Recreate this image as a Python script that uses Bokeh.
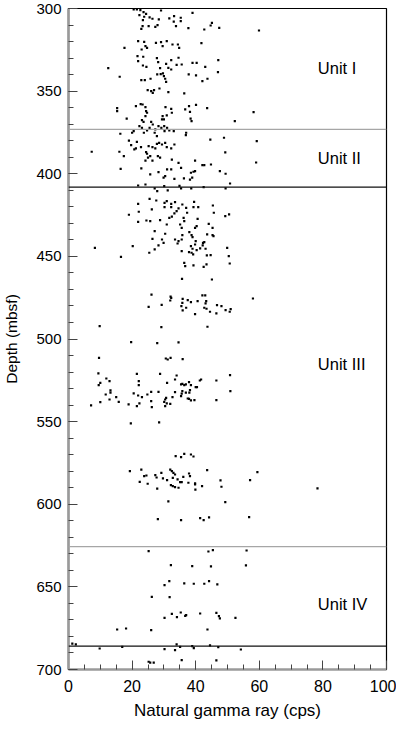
from bokeh.plotting import figure
from bokeh.models import Range1d, SingleIntervalTicker, Span, ColumnDataSource
from bokeh.core.properties import value
from bokeh.embed import file_html
from bokeh.resources import INLINE

# ---- data: (natural gamma ray [cps], depth [mbsf]) ----
pts_300_369 = [(20.5,300.6),(21.5,300.6),(22.6,301.0),(23.6,302.2),(24.4,303.2),(29.1,301.2),(39.0,302.6),(22.3,304.0),(23.8,305.0),(25.5,305.4),(26.4,306.2),(28.4,306.6),(31.7,306.0),(33.2,304.6),(35.3,305.6),(35.3,307.6),(33.1,308.0),(23.4,307.0),(23.3,310.7),(25.2,310.7),(27.3,311.1),(28.0,310.1),(33.8,310.7),(37.7,311.9),(42.7,312.7),(44.7,310.3),(45.1,308.7),(47.4,311.7),(59.9,313.3),(22.9,312.3),(17.6,323.8),(21.9,319.7),(23.8,320.2),(24.2,322.8),(24.7,323.8),(23.0,324.8),(27.5,320.8),(29.1,320.4),(29.6,322.8),(30.9,319.7),(32.7,321.8),(34.4,321.8),(34.8,323.8),(41.8,321.0),(21.7,328.8),(23.5,329.2),(21.9,331.8),(27.8,330.0),(28.2,332.5),(30.7,333.5),(32.3,331.2),(34.6,329.8),(35.6,333.9),(34.0,334.1),(39.0,332.9),(40.3,332.9),(43.0,335.3),(47.1,331.2),(12.5,336.1),(23.4,334.5),(24.5,335.3),(28.8,336.1),(31.4,335.9),(32.3,336.9),(16.1,341.3),(22.9,343.3),(24.0,343.3),(25.8,342.5),(27.9,339.9),(29.0,339.7),(29.7,339.3),(30.0,340.9),(30.4,342.5),(30.7,344.4),(37.8,339.9),(40.1,340.5),(42.1,344.0),(43.7,342.5),(47.0,338.5),(24.9,349.4),(26.0,350.0),(26.5,351.0),(26.9,349.4),(28.6,348.4),(31.4,350.6),(36.4,351.4),(15.3,360.3),(15.3,362.1),(21.2,359.1),(22.7,357.9),(23.3,358.1),(24.2,359.7),(24.4,362.1),(24.7,363.1),(24.2,365.1),(30.5,359.7),(32.3,360.7),(32.5,363.1),(30.9,364.7),(29.6,365.1),(29.4,367.1),(36.7,361.1),(37.9,359.1),(38.2,362.5),(40.1,358.3),(43.6,360.3),(58.2,362.7),(18.3,366.7),(23.1,367.5),(23.6,368.6),(26.0,368.6),(30.0,367.1),(38.4,366.7),(38.7,368.2),(52.3,368.2)]

pts_369_437 = [(16.3,375.8),(20.0,375.2),(22.3,371.2),(20.5,374.2),(23.1,372.2),(23.7,375.2),(24.7,373.8),(25.5,372.2),(26.5,370.2),(27.3,373.2),(28.3,371.2),(29.2,372.2),(30.1,371.2),(30.2,374.2),(31.0,372.2),(31.7,373.8),(33.1,374.2),(37.0,375.2),(36.9,376.6),(27.1,375.2),(27.8,377.2),(19.0,379.9),(21.5,380.7),(19.7,382.7),(20.7,385.3),(21.2,384.7),(22.8,383.9),(25.2,383.3),(26.4,383.9),(27.3,384.7),(27.8,381.9),(28.5,381.3),(29.4,382.3),(30.4,381.3),(30.9,383.9),(32.3,384.7),(33.3,382.3),(44.6,379.3),(48.9,378.2),(59.2,380.3),(7.3,386.7),(16.0,386.7),(17.4,389.3),(24.4,386.9),(24.7,387.9),(25.0,390.3),(24.2,392.0),(25.7,389.3),(26.4,392.0),(28.1,389.3),(28.8,390.3),(32.5,391.4),(39.8,392.0),(42.1,394.8),(42.7,394.8),(44.8,394.4),(49.3,387.1),(59.0,393.2),(22.9,396.8),(16.4,397.0),(25.7,400.4),(28.3,399.0),(29.9,402.4),(30.4,401.4),(31.0,397.4),(32.3,397.4),(34.6,393.4),(35.4,396.4),(38.5,399.4),(39.3,398.8),(39.8,398.4),(36.3,402.8),(38.2,403.5),(38.9,402.4),(33.3,403.1),(47.6,398.4),(49.4,400.0),(21.9,407.1),(24.2,406.5),(27.1,408.9),(27.9,410.5),(30.1,407.5),(31.2,410.1),(34.9,407.3),(35.4,408.9),(38.6,408.9),(42.5,408.1),(49.4,408.9),(50.8,405.9),(25.5,415.2),(27.6,416.2),(30.2,417.6),(30.9,416.6),(32.3,418.2),(33.5,417.2),(35.8,418.6),(39.5,417.0),(39.3,420.2),(40.8,420.2),(21.9,418.2),(22.1,423.0),(26.2,421.6),(19.0,424.8),(30.2,420.2),(32.3,420.2),(34.6,421.0),(34.0,422.6),(33.3,424.0),(32.5,426.0),(31.7,426.7),(36.2,426.7),(36.4,428.7),(37.0,420.6),(37.3,423.6),(45.4,419.2),(45.7,423.6),(49.3,425.6),(50.5,424.6),(40.6,427.3),(21.9,429.1),(24.5,428.3),(25.7,428.7),(28.8,428.1),(30.9,430.7),(35.1,430.7),(35.6,432.7),(40.3,431.7),(39.8,432.7),(44.1,430.3),(45.3,432.7),(27.1,434.7),(30.4,436.3),(35.8,437.1),(38.0,435.3),(38.7,437.1),(43.6,436.7),(45.3,437.1)]

pts_437_503 = [(26.4,439.4),(29.4,439.8),(29.9,441.8),(28.3,443.4),(27.1,445.8),(25.4,447.8),(33.5,439.8),(34.6,440.8),(34.3,442.2),(35.6,439.8),(39.0,438.4),(40.0,440.8),(39.8,442.8),(38.5,443.8),(39.0,445.4),(42.3,441.8),(42.7,441.4),(42.2,443.4),(41.4,445.2),(40.3,446.2),(43.1,445.4),(35.6,446.8),(37.9,447.4),(38.7,447.8),(39.2,448.8),(43.5,449.4),(44.7,449.2),(45.6,437.7),(49.9,444.8),(50.4,449.8),(50.7,454.3),(8.3,444.8),(20.2,443.8),(16.5,450.3),(36.4,453.9),(36.7,455.9),(39.3,455.5),(42.5,456.3),(43.4,454.9),(35.7,463.6),(45.1,464.0),(26.1,473.2),(32.1,474.3),(32.3,475.1),(32.0,476.7),(35.9,475.7),(35.8,478.1),(37.5,476.5),(38.5,477.7),(40.6,477.1),(42.1,473.6),(43.0,473.6),(43.3,477.1),(43.1,478.5),(42.7,481.1),(43.4,481.7),(29.3,479.3),(25.2,480.5),(35.5,480.1),(37.0,481.1),(35.9,482.7),(39.8,484.9),(44.5,483.5),(46.7,479.5),(48.1,480.1),(46.5,484.5),(49.4,482.5),(50.7,483.5),(51.0,481.9),(58.0,475.5),(9.8,492.2),(29.2,492.8),(43.7,492.6),(19.7,501.9),(27.9,502.5),(34.6,502.1)]

pts_503_572 = [(9.6,511.4),(30.6,511.8),(31.2,512.4),(32.1,511.4),(35.9,512.2),(9.4,520.8),(21.5,521.1),(28.8,521.1),(34.0,522.1),(10.0,526.5),(9.5,527.9),(11.9,523.9),(12.9,525.5),(22.1,525.5),(22.1,527.9),(31.0,526.5),(33.5,524.5),(35.4,527.5),(35.8,527.1),(36.4,527.9),(36.9,527.5),(37.9,526.1),(38.5,527.9),(40.0,529.1),(40.4,529.1),(41.3,525.1),(41.7,524.5),(46.5,525.1),(50.8,521.9),(13.2,531.1),(13.2,532.5),(11.7,533.6),(15.0,535.2),(12.9,536.6),(15.8,538.0),(10.0,538.2),(7.1,540.2),(18.9,539.6),(20.5,532.9),(21.9,534.2),(23.1,535.2),(22.3,539.0),(21.5,540.6),(24.8,533.6),(26.0,532.0),(26.0,537.6),(26.2,541.2),(28.3,532.0),(30.4,536.6),(30.1,538.0),(30.7,535.6),(30.9,539.0),(32.0,539.2),(30.4,540.6),(32.7,535.2),(33.5,532.1),(35.4,534.6),(35.6,533.0),(35.8,531.5),(36.9,532.5),(37.5,536.0),(38.0,532.5),(38.2,530.9),(37.9,536.2),(38.5,537.2),(39.6,537.0),(50.9,531.5),(46.5,537.0),(19.6,551.1),(28.5,550.5),(33.7,570.9),(35.4,571.5),(36.4,569.5),(38.5,569.9),(39.3,571.1)]

pts_572_647 = [(19.3,580.0),(22.9,579.0),(23.8,583.0),(24.5,582.6),(22.4,586.4),(24.9,587.6),(27.3,582.4),(27.7,583.8),(29.2,581.0),(29.7,584.4),(31.0,585.4),(32.0,579.0),(32.5,580.0),(33.0,581.0),(33.5,582.0),(32.8,584.0),(32.2,588.4),(32.8,589.0),(33.5,589.6),(34.6,590.0),(34.3,585.0),(35.1,586.6),(35.6,586.6),(36.1,583.4),(37.7,587.0),(37.9,581.4),(38.2,583.0),(39.8,587.4),(39.8,588.0),(39.9,591.1),(42.0,589.0),(43.6,579.4),(47.8,585.6),(48.1,589.4),(27.9,590.6),(57.1,585.4),(59.4,580.6),(78.3,590.4),(31.4,598.3),(49.3,598.7),(28.1,609.0),(35.4,609.6),(41.4,608.4),(42.5,609.6),(44.2,608.0),(56.8,607.8),(25.2,628.4),(44.0,628.6),(45.4,627.8),(56.0,628.0),(32.2,636.8),(38.9,637.4),(44.8,637.6),(55.8,637.0),(31.7,646.5),(44.2,646.5)]

pts_647_700 = [(30.2,648.9),(36.4,647.9),(39.4,648.1),(42.7,648.1),(46.8,648.5),(26.2,656.0),(31.8,656.2),(30.2,668.7),(32.5,666.3),(34.1,668.3),(35.3,665.5),(36.7,667.5),(37.0,667.1),(41.4,666.1),(46.5,665.7),(47.3,667.7),(47.6,669.1),(52.5,668.7),(15.3,675.8),(18.1,675.2),(26.0,676.2),(43.7,675.8),(1.2,684.4),(2.3,684.8),(9.8,687.3),(16.9,686.3),(30.2,687.7),(33.5,688.3),(34.0,684.8),(35.1,686.3),(38.9,685.9),(39.4,687.1),(44.5,685.4),(47.1,686.5),(54.2,687.9),(25.2,695.3),(25.7,695.9),(26.8,695.9),(35.6,694.3),(46.5,694.5)]

unit_names = ["Unit I", "Unit II", "Unit III", "Unit IV"]
unit_label_depths = [336.0, 390.4, 515.2, 660.4]
unit_label_gamma = [78.4, 78.4, 78.4, 78.4]
boundary_depths = [373.2, 408.1, 625.7, 685.9]
boundary_colors = ["#a6a6a6", "#111111", "#a6a6a6", "#111111"]

all_pts = pts_300_369 + pts_369_437 + pts_437_503 + pts_503_572 + pts_572_647 + pts_647_700
gamma = [g for g, d in all_pts]
depth = [d for g, d in all_pts]

FONT = "Liberation Sans"

p = figure(output_backend="svg", toolbar_location=None,
           frame_width=318, frame_height=661,
           min_border_left=63, min_border_right=10, min_border_top=8, min_border_bottom=56,
           x_range=Range1d(0, 100), y_range=Range1d(700, 300))
p.width = 391
p.height = 725
p.background_fill_color = "white"
p.border_fill_color = "white"
p.xgrid.visible = False
p.ygrid.visible = False
p.outline_line_color = "black"
p.outline_line_width = 1.2

p.scatter(gamma, depth, marker="square", size=2.2, fill_color="black", line_color=None)

for d, c in zip(boundary_depths, boundary_colors):
    p.add_layout(Span(location=d, dimension="width", line_color=c, line_width=1.2))

src = ColumnDataSource(dict(x=unit_label_gamma, y=unit_label_depths, t=unit_names))
p.text(x="x", y="y", text="t", source=src, text_align="left", text_baseline="middle",
       text_font=value(FONT), text_font_size="16.5px", text_color="black")

# axes
for ax in (p.xaxis[0], p.yaxis[0]):
    ax.axis_line_color = "#9a9a9a"
    ax.axis_line_width = 2.6
    ax.major_tick_in = 9
    ax.major_tick_out = 0
    ax.minor_tick_in = 5
    ax.minor_tick_out = 0
    ax.major_tick_line_color = "#444444"
    ax.minor_tick_line_color = "#444444"
    ax.major_label_text_font = FONT
    ax.axis_label_text_font = FONT
    ax.axis_label_text_font_style = "normal"
    ax.major_label_text_color = "black"
    ax.axis_label_text_color = "black"

p.xaxis.ticker = SingleIntervalTicker(interval=20, num_minor_ticks=4)
p.yaxis.ticker = SingleIntervalTicker(interval=50, num_minor_ticks=5)
p.xaxis.axis_label = "Natural gamma ray (cps)"
p.yaxis.axis_label = "Depth (mbsf)"
p.xaxis.major_label_text_font_size = "16px"
p.yaxis.major_label_text_font_size = "15px"
p.xaxis.axis_label_text_font_size = "17px"
p.yaxis.axis_label_text_font_size = "15.5px"
p.xaxis.major_label_standoff = 10
p.yaxis.major_label_standoff = 7
p.xaxis.axis_label_standoff = 6
p.yaxis.axis_label_standoff = 13

open("out.html", "w").write(file_html(p, INLINE))
